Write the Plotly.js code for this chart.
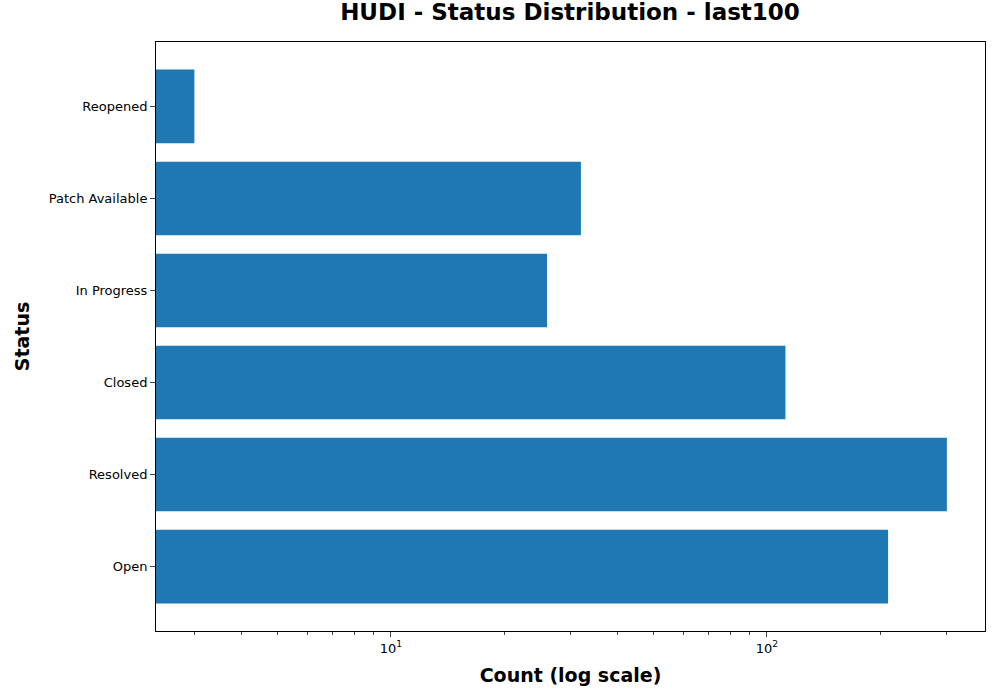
<!DOCTYPE html>
<html>
<head>
<script src="https://cdn.plot.ly/plotly-3.0.1.min.js"></script>
<style>body{margin:0}</style>
</head>
<body>
<div id="chart" style="width:1000px;height:700px"></div>
<script>
var statuses = ['Open', 'Resolved', 'Closed', 'In Progress', 'Patch Available', 'Reopened'];
var counts = [210, 301, 112, 26, 32, 3];
var tickVals = [10, 100];
var tickText = ['10<sup>1</sup>', '10<sup>2</sup>'];

var trace = {
  type: 'bar',
  orientation: 'h',
  x: counts,
  y: statuses,
  width: 0.8,
  marker: {color: '#1f77b4'}
};

var layout = {
  width: 1000, height: 700,
  margin: {l: 156, r: 15, t: 42, b: 69},
  paper_bgcolor: 'white', plot_bgcolor: 'white',
  font: {family: 'DejaVu Sans', size: 13, color: 'black'},
  title: {text: '<b>HUDI - Status Distribution - last100</b>', font: {size: 23}, x: 0.57, xanchor: 'center', y: 0.995, yanchor: 'top'},
  xaxis: {
    type: 'log', range: [0.375, 2.58],
    tickvals: tickVals, ticktext: tickText,
    ticks: 'outside', ticklen: 5, showgrid: false, zeroline: false,
    showline: true, mirror: true, linecolor: 'black',
    tickfont: {size: 13},
    minor: {ticks: 'outside', ticklen: 3, tickvals: [3,4,5,6,7,8,9,20,30,40,50,60,70,80,90,200,300]},
    title: {text: '<b>Count (log scale)</b>', font: {size: 19}, standoff: 14}
  },
  yaxis: {
    ticks: 'outside', ticklen: 5, showgrid: false,
    showline: true, mirror: true, linecolor: 'black',
    tickfont: {size: 13},
    range: [-0.7, 5.7],
    title: {text: '<b>Status</b>', font: {size: 19}, standoff: 14}
  },
  bargap: 0.2
};

Plotly.newPlot('chart', [trace], layout, {displayModeBar: false});
</script>
</body>
</html>
